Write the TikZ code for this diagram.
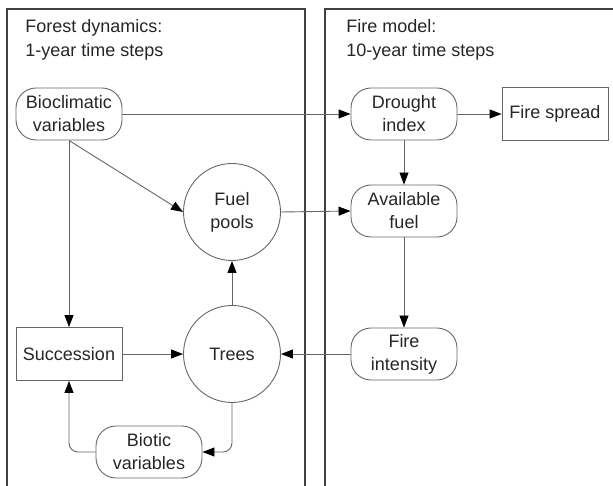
\documentclass[tikz,border=0pt]{standalone}
\usepackage{fontspec}
\setmainfont{Liberation Sans}
\usetikzlibrary{positioning,arrows.meta}

\begin{document}
\begin{tikzpicture}[x=1pt,y=-1pt,->,>={Triangle[length=12pt,width=9pt,color=black]},
                    line width=0.9pt,draw=black!60,font=\fontsize{18}{23}\selectfont]
  \tikzstyle{every node}=[draw=black!60,text=black!85,align=center]
  \tikzstyle{var}=[rounded corners=20pt,minimum width=106pt,minimum height=52pt]
  \tikzstyle{proc}=[rectangle,minimum width=106pt,minimum height=53pt]
  \tikzstyle{pool}=[circle,minimum size=97pt,inner sep=0pt]
  \tikzstyle{panel}=[-,draw=black!75,line width=1.6pt]
  \tikzstyle{title}=[draw=none,anchor=base west,align=left,inner sep=0pt,
                     font=\fontsize{18}{24}\selectfont]

  \useasboundingbox (0,0) rectangle (613,486);

  % the two panels, open at the bottom
  \draw[panel] (7,490) -- (7,9) -- (305,9) -- (305,490);
  \draw[panel] (325,490) -- (325,9) -- (616,9);

  \node[title] (forest) at (25,57)  {Forest dynamics:\\1-year time steps};
  \node[title] (fire)   at (346,57) {Fire model:\\10-year time steps};

  % forest dynamics
  \node[var]  (bioclim) at (69,114)  {Bioclimatic\\variables};
  \node[pool] (fuel)    at (232,212) {Fuel\\pools};
  \node[pool] (trees)   at (232,354) {Trees};
  \node[proc] (succ)    at (69,354)  {Succession};
  \node[var]  (biotic)  at (149,452) {Biotic\\variables};

  % fire model
  \node[var]  (drought) at (404,114) {Drought\\index};
  \node[proc] (spread)  at (555,114) {Fire spread};
  \node[var]  (avail)   at (404,211) {Available\\fuel};
  \node[var]  (intens)  at (404,354) {Fire\\intensity};

  \draw (bioclim) -- (drought);
  \draw (bioclim.south) -- (succ.north);
  \draw (bioclim.south) -- (fuel.west);
  \draw (drought) -- (spread);
  \draw (drought) -- (avail);
  \draw (fuel.east) -- (avail.west);
  \draw (avail) -- (intens);
  \draw (intens) -- (trees);
  \draw (trees) -- (fuel);
  \draw (succ) -- (trees);
  \draw[rounded corners=9pt] (trees.south) |- (biotic.east);
  \draw[rounded corners=9pt] (biotic.west) -| (succ.south);
\end{tikzpicture}
\end{document}
